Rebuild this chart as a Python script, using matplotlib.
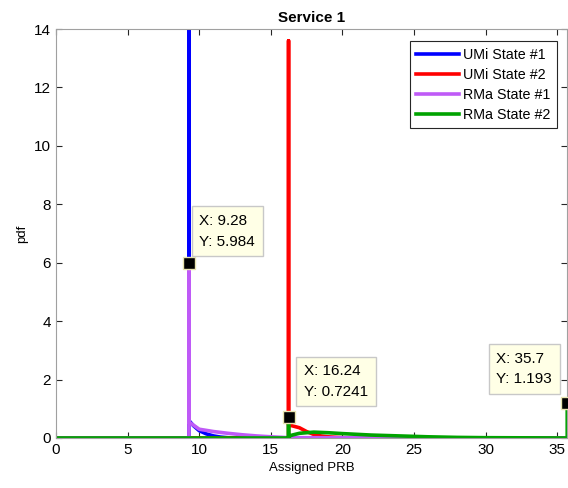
import matplotlib
matplotlib.use('Agg')
import matplotlib.pyplot as plt

plt.rcParams['font.family'] = ['Liberation Sans', 'DejaVu Sans']

# pdf curves per propagation state
umi1_x = [0, 9.28, 9.28, 9.28, 9.6, 10.0, 10.5, 11.0, 11.5, 12.2, 35.7]
umi1_y = [0, 0, 20.0, 0.60, 0.42, 0.25, 0.14, 0.07, 0.03, 0.0, 0.0]

umi2_x = [0, 16.24, 16.24, 16.24, 17.0, 17.5, 18.0, 18.5, 19.0, 20.0, 35.7]
umi2_y = [0, 0, 13.6, 0.45, 0.35, 0.22, 0.12, 0.07, 0.04, 0.01, 0.0]

rma1_x = [0, 9.28, 9.28, 9.28, 10.0, 11.0, 12.0, 13.0, 14.0, 15.0, 16.24, 35.7]
rma1_y = [0, 0, 5.984, 0.55, 0.30, 0.22, 0.16, 0.11, 0.07, 0.04, 0.01, 0.0]

rma2_x = [0, 16.24, 16.24, 16.24, 16.5, 17.0, 18.0, 19.0, 20.0, 22.0, 24.0, 26.0, 28.0, 30.0, 35.7, 35.7]
rma2_y = [0, 0, 0.7241, 0.05, 0.10, 0.16, 0.20, 0.18, 0.15, 0.10, 0.07, 0.04, 0.02, 0.01, 0.0, 1.193]

# data tips
tips_x = [9.28, 16.24, 35.7]
tips_y = [5.984, 0.7241, 1.193]
tips_txt = ['X: 9.28\nY: 5.984', 'X: 16.24\nY: 0.7241', 'X: 35.7\nY: 1.193']
tips_off = [(7.5, 10.5), (11, 13), (-51, 12)]

fig = plt.figure(figsize=(5.68, 4.88), dpi=100)
ax = fig.add_axes([0.0986, 0.1025, 0.9, 0.838])

lw = 2.6
ax.plot(umi1_x, umi1_y, color='#0000FF', lw=lw, label='UMi State #1')
ax.plot(umi2_x, umi2_y, color='#FF0000', lw=lw, label='UMi State #2')
ax.plot(rma1_x, rma1_y, color='#BF5AF7', lw=lw, label='RMa State #1')
ax.plot(rma2_x, rma2_y, color='#00A300', lw=lw, label='RMa State #2')

for tx, ty, txt, off in zip(tips_x, tips_y, tips_txt, tips_off):
    ax.plot(tx, ty, 's', ms=9, mfc='black', mec='#E8E4B0', mew=1, clip_on=False, zorder=5)
    ax.annotate(txt, xy=(tx, ty), xytext=off, textcoords='offset points',
                fontsize=11, va='bottom', ha='left', linespacing=1.6,
                bbox=dict(boxstyle='square,pad=0.5', fc='#FFFFE6', ec='#C8C8C8', lw=1),
                annotation_clip=False, zorder=6)

ax.set_xlim(0, 35.7)
ax.set_ylim(0, 14)
ax.set_xticks(range(0, 36, 5))
ax.set_yticks(range(0, 15, 2))
ax.tick_params(direction='in', top=True, right=True, labelsize=11, length=4, color='#262626')
for s in ax.spines.values():
    s.set_color('#A0A0A0')

ax.set_xlabel('Assigned PRB', fontsize=9.5)
ax.set_ylabel('pdf', fontsize=9.5)
ax.set_title('Service 1', fontsize=11, fontweight='bold', pad=5)

leg = ax.legend(loc='upper right', bbox_to_anchor=(0.98, 0.97), fontsize=10.3, fancybox=False,
                framealpha=1, edgecolor='#262626', handlelength=3.0, borderaxespad=0,
                labelspacing=0.42, handletextpad=0.3, borderpad=0.45)
leg.get_frame().set_linewidth(0.8)

fig.savefig('out.png', dpi=100)
